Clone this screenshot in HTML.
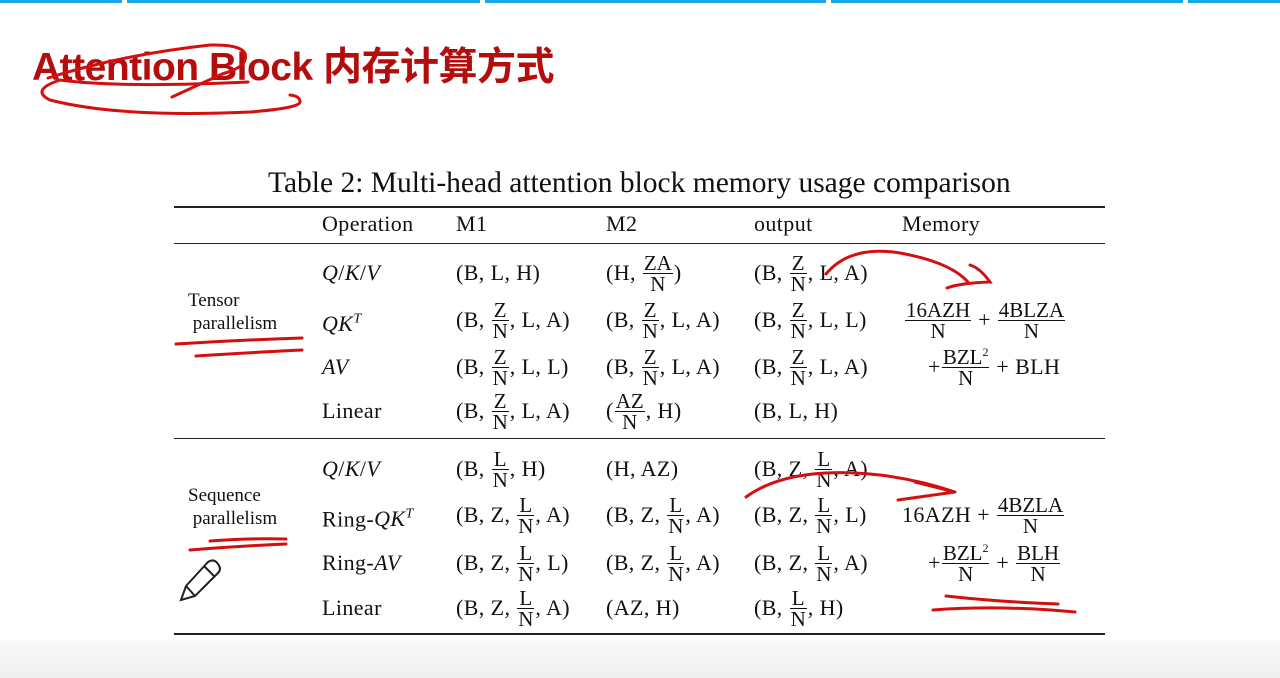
<!DOCTYPE html>
<html><head><meta charset="utf-8"><style>
html,body{margin:0;padding:0}
body{width:1280px;height:678px;position:relative;overflow:hidden;background:#fff;font-family:"Liberation Serif",serif;color:#111}
.bl{position:absolute;top:0;height:3px;background:#1aa7e8}
.c{position:absolute;height:24px;line-height:24px;font-size:22px;white-space:nowrap;letter-spacing:0.4px}
.f{display:inline-block;vertical-align:-11px;text-align:center;line-height:20px;font-size:21px;margin:-22px 1px -22px 1px;letter-spacing:0}
.f>span{display:block;padding:0 1px}
.f>span:first-child{border-bottom:1.3px solid #111}
i{font-style:italic}
.h{position:absolute;height:2px;background:#222;left:174px;width:931px}
.lab{position:absolute;font-size:19px;line-height:23px}
</style></head><body>
<div class="bl" style="left:0;width:122px"></div>
<div class="bl" style="left:127px;width:353px"></div>
<div class="bl" style="left:485px;width:341px"></div>
<div class="bl" style="left:831px;width:352px"></div>
<div class="bl" style="left:1188px;width:92px"></div>
<div style="position:absolute;left:0;top:640px;width:1280px;height:38px;background:linear-gradient(#fafafa,#efefef)"></div>

<div style="position:absolute;left:32px;top:45px;font-family:'Liberation Sans','Noto Sans CJK SC',sans-serif;font-weight:bold;font-size:39px;color:#b30d0d;letter-spacing:-0.5px;line-height:46px">Attention Block 内存计算方式</div>

<div style="position:absolute;left:268px;top:167px;font-size:29.5px;line-height:32px">Table 2: Multi-head attention block memory usage comparison</div>

<div class="h" style="top:206px"></div>
<div class="h" style="top:243px;height:1px"></div>
<div class="h" style="top:438px;height:1px"></div>
<div class="h" style="top:633px"></div>

<div class="c" style="left:322px;top:212px">Operation</div>
<div class="c" style="left:456px;top:212px">M1</div>
<div class="c" style="left:606px;top:212px">M2</div>
<div class="c" style="left:754px;top:212px">output</div>
<div class="c" style="left:902px;top:212px">Memory</div>

<div class="lab" style="left:188px;top:289px">Tensor<br>&nbsp;parallelism</div>
<div class="lab" style="left:188px;top:484px">Sequence<br>&nbsp;parallelism</div>

<!-- tensor -->
<div class="c" style="left:322px;top:261px"><i>Q</i>/<i>K</i>/<i>V</i></div>
<div class="c" style="left:456px;top:261px">(B, L, H)</div>
<div class="c" style="left:606px;top:261px">(H, <span class="f"><span>ZA</span><span>N</span></span>)</div>
<div class="c" style="left:754px;top:261px">(B, <span class="f"><span>Z</span><span>N</span></span>, L, A)</div>

<div class="c" style="left:322px;top:308px"><i>QK<sup style="font-size:14px">T</sup></i></div>
<div class="c" style="left:456px;top:308px">(B, <span class="f"><span>Z</span><span>N</span></span>, L, A)</div>
<div class="c" style="left:606px;top:308px">(B, <span class="f"><span>Z</span><span>N</span></span>, L, A)</div>
<div class="c" style="left:754px;top:308px">(B, <span class="f"><span>Z</span><span>N</span></span>, L, L)</div>

<div class="c" style="left:322px;top:355px"><i>AV</i></div>
<div class="c" style="left:456px;top:355px">(B, <span class="f"><span>Z</span><span>N</span></span>, L, L)</div>
<div class="c" style="left:606px;top:355px">(B, <span class="f"><span>Z</span><span>N</span></span>, L, A)</div>
<div class="c" style="left:754px;top:355px">(B, <span class="f"><span>Z</span><span>N</span></span>, L, A)</div>

<div class="c" style="left:322px;top:399px">Linear</div>
<div class="c" style="left:456px;top:399px">(B, <span class="f"><span>Z</span><span>N</span></span>, L, A)</div>
<div class="c" style="left:606px;top:399px">(<span class="f"><span>AZ</span><span>N</span></span>, H)</div>
<div class="c" style="left:754px;top:399px">(B, L, H)</div>

<div class="c" style="left:904px;top:308px"><span class="f"><span>16AZH</span><span>N</span></span> + <span class="f"><span>4BLZA</span><span>N</span></span></div>
<div class="c" style="left:928px;top:355px">+<span class="f"><span>BZL<sup style="font-size:12px">2</sup></span><span>N</span></span> + BLH</div>

<!-- sequence -->
<div class="c" style="left:322px;top:457px"><i>Q</i>/<i>K</i>/<i>V</i></div>
<div class="c" style="left:456px;top:457px">(B, <span class="f"><span>L</span><span>N</span></span>, H)</div>
<div class="c" style="left:606px;top:457px">(H, AZ)</div>
<div class="c" style="left:754px;top:457px">(B, Z, <span class="f"><span>L</span><span>N</span></span>, A)</div>

<div class="c" style="left:322px;top:503px">Ring-<i>QK<sup style="font-size:14px">T</sup></i></div>
<div class="c" style="left:456px;top:503px">(B, Z, <span class="f"><span>L</span><span>N</span></span>, A)</div>
<div class="c" style="left:606px;top:503px">(B, Z, <span class="f"><span>L</span><span>N</span></span>, A)</div>
<div class="c" style="left:754px;top:503px">(B, Z, <span class="f"><span>L</span><span>N</span></span>, L)</div>

<div class="c" style="left:322px;top:551px">Ring-<i>AV</i></div>
<div class="c" style="left:456px;top:551px">(B, Z, <span class="f"><span>L</span><span>N</span></span>, L)</div>
<div class="c" style="left:606px;top:551px">(B, Z, <span class="f"><span>L</span><span>N</span></span>, A)</div>
<div class="c" style="left:754px;top:551px">(B, Z, <span class="f"><span>L</span><span>N</span></span>, A)</div>

<div class="c" style="left:322px;top:596px">Linear</div>
<div class="c" style="left:456px;top:596px">(B, Z, <span class="f"><span>L</span><span>N</span></span>, A)</div>
<div class="c" style="left:606px;top:596px">(AZ, H)</div>
<div class="c" style="left:754px;top:596px">(B, <span class="f"><span>L</span><span>N</span></span>, H)</div>

<div class="c" style="left:902px;top:503px">16AZH + <span class="f"><span>4BZLA</span><span>N</span></span></div>
<div class="c" style="left:928px;top:551px">+<span class="f"><span>BZL<sup style="font-size:12px">2</sup></span><span>N</span></span> + <span class="f"><span>BLH</span><span>N</span></span></div>

<svg width="1280" height="678" style="position:absolute;left:0;top:0" fill="none" stroke="#d40f0f" stroke-width="3" stroke-linecap="round">
<path d="M248 82 Q120 88 60 80 Q30 90 50 100 Q120 118 250 112 Q300 108 300 102 Q300 96 290 95"/>
<path d="M48 78 Q120 55 210 45 Q250 44 245 60 Q243 68 222 74 L172 97"/>
<path d="M176 344 Q240 340 302 338"/>
<path d="M196 356 Q260 352 302 350"/>
<path d="M826 274 Q850 245 900 253 Q950 262 968 282"/>
<path d="M947 288 Q960 283 990 282 Q980 268 970 265"/>
<path d="M746 497 Q790 465 880 475 Q920 480 955 492 M915 482 L955 492 L898 500"/>
<path d="M190 550 Q240 546 286 544"/>
<path d="M210 541 Q250 538 286 539"/>
<path d="M946 596 Q1000 602 1058 604 M933 610 Q1000 605 1075 612"/>
</svg>
<svg width="50" height="50" style="position:absolute;left:178px;top:556px" fill="none" stroke="#222" stroke-width="2">
<path d="M3 44 L8 30 L30 6 Q36 2 40 8 Q44 13 40 17 L17 40 Z M26 10 L36 20 M8 30 L17 40"/>
</svg>
</body></html>
